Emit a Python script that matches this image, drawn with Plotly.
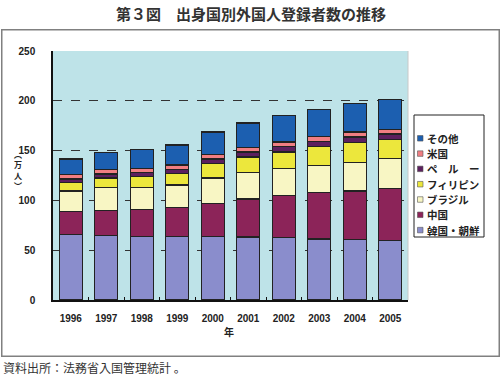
import plotly.graph_objects as go

years = ["1996", "1997", "1998", "1999", "2000", "2001", "2002", "2003", "2004", "2005"]
# values in 万人 (ten-thousand persons)
korea = [65.7, 64.5, 63.8, 63.6, 63.5, 63.2, 62.5, 61.4, 60.7, 59.9]
china = [23.4, 25.2, 27.3, 29.4, 33.5, 38.2, 42.4, 46.3, 48.8, 51.9]
brazil = [20.2, 23.4, 22.2, 22.4, 25.4, 26.6, 26.8, 27.5, 28.7, 30.2]
philippines = [8.5, 9.3, 10.6, 11.6, 14.5, 15.6, 16.9, 18.6, 20.0, 18.8]
peru = [3.7, 4.1, 4.1, 4.2, 4.6, 5.1, 5.2, 5.4, 5.6, 5.8]
usa = [4.4, 4.3, 4.2, 4.2, 4.4, 4.7, 4.8, 4.8, 4.9, 4.9]
other = [15.6, 17.5, 19.0, 20.2, 22.7, 24.4, 26.6, 27.5, 28.7, 29.7]

series_names = ["韓国・朝鮮", "中国", "ブラジル", "フィリピン", "ペ　ル　ー", "米国", "その他"]
series_values = [korea, china, brazil, philippines, peru, usa, other]
series_colors = ["#8a8dcc", "#8c2459", "#f8f6c4", "#ece73c", "#5c1f5e", "#f07e82", "#1c5fb0"]

title_text = "第３図　出身国別外国人登録者数の推移"
y_label = "︵<br>万<br>人<br>︶"
x_label = "年"
source_text = "資料出所：法務省入国管理統計 。"

fig = go.Figure()
for name, vals, col in zip(series_names, series_values, series_colors):
    fig.add_trace(go.Bar(
        x=years, y=vals, name=name, showlegend=False,
        marker=dict(color=col, line=dict(color="#222222", width=1.3)),
    ))

PL, PR, PT, PB = 53, 408, 51, 300
W, H = 500, 376
def px(x):
    return (x - PL) / (PR - PL)
def py(y):
    return (PB - y) / (PB - PT)

tickfont = dict(family="Liberation Sans, Arial", size=10, color="#222222", weight="bold")

fig.update_layout(
    width=W, height=H,
    margin=dict(l=PL, r=W - PR, t=PT, b=H - PB, pad=0, autoexpand=False),
    barmode="stack", bargap=0.35,
    paper_bgcolor="white", plot_bgcolor="#bee3e8",
    showlegend=False,
    font=dict(family="Noto Sans CJK JP"),
)
fig.update_xaxes(
    type="category", showline=True, linecolor="#111111", linewidth=1.5,
    ticks="inside", tickson="boundaries", ticklen=3, tickcolor="#111111",
    tickfont=tickfont, ticklabelstandoff=8, showgrid=False,
)
fig.update_yaxes(
    range=[0, 250], dtick=50, showline=True, linecolor="#111111", linewidth=1.5,
    showgrid=True, gridcolor="#333333", griddash="dash", gridwidth=1,
    tickfont=tickfont, ticks="", ticklabelstandoff=14, zeroline=False,
)

fig.add_shape(type="line", xref="paper", yref="paper", x0=1, x1=1, y0=0, y1=1,
              line=dict(color="#c8c8c8", width=1))

# outer frame: a bordered, empty annotation box
FX0, FX1, FY0, FY1 = 1.5, 498.5, 29.5, 355.5
fig.add_annotation(text=" ", xref="paper", yref="paper",
                   x=px((FX0 + FX1) / 2), y=py((FY0 + FY1) / 2),
                   xanchor="center", yanchor="middle", showarrow=False,
                   width=FX1 - FX0 - 1.5, height=FY1 - FY0 - 1.5,
                   borderpad=0, borderwidth=1.5, bordercolor="#808080",
                   font=dict(size=10))

# legend box (custom, to match compact spacing)
LX0, LX1, LY0, LY1 = 414, 484, 115, 237
fig.add_shape(type="rect", xref="paper", yref="paper",
              x0=px(LX0), x1=px(LX1), y0=py(LY1), y1=py(LY0),
              line=dict(color="#222222", width=1), fillcolor="white")
item_y0, item_dy = 138.3, 15.3
for i, idx in enumerate(range(len(series_names) - 1, -1, -1)):
    yc = item_y0 + i * item_dy
    fig.add_shape(type="rect", xref="paper", yref="paper",
                  x0=px(417.5), x1=px(423), y0=py(yc + 2.75), y1=py(yc - 2.75),
                  line=dict(color="#555555", width=0.6), fillcolor=series_colors[idx])
    fig.add_annotation(text=series_names[idx], xref="paper", yref="paper",
                       x=px(424.5), y=py(yc), xanchor="left", yanchor="middle", showarrow=False,
                       font=dict(family="Noto Sans CJK JP", size=10.5, color="#222222", weight="bold"))

fig.add_annotation(text=title_text, xref="paper", yref="paper",
                   x=px(251), y=py(13), xanchor="center", yanchor="middle", showarrow=False,
                   font=dict(family="Noto Sans CJK JP", size=15, color="#333333", weight="bold"))
fig.add_annotation(text=y_label, xref="paper", yref="paper",
                   x=px(18), y=py(170), xanchor="center", yanchor="middle", showarrow=False,
                   font=dict(family="Noto Sans CJK JP", size=8, color="#222222", weight="bold"))
fig.add_annotation(text=x_label, xref="paper", yref="paper",
                   x=px(229), y=py(331), xanchor="center", yanchor="middle", showarrow=False,
                   font=dict(family="Noto Sans CJK JP", size=10, color="#222222", weight="bold"))
fig.add_annotation(text=source_text, xref="paper", yref="paper",
                   x=px(1), y=py(367), xanchor="left", yanchor="middle", showarrow=False,
                   font=dict(family="Noto Sans CJK JP", size=12, color="#333333"))

fig.write_html("out.html", config={"displayModeBar": False},
               post_script="document.body.style.margin='0px';")
